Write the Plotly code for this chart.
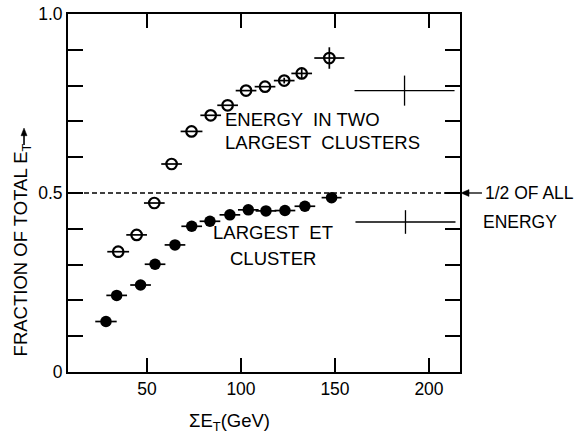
import plotly.graph_objects as go

# ---- data ----
et_two = [34.7, 44.5, 53.9, 63.1, 73.7, 83.9, 92.9, 102.7, 112.8, 123.0, 132.3, 147.0]
frac_two = [0.336, 0.383, 0.472, 0.581, 0.672, 0.717, 0.745, 0.786, 0.797, 0.814, 0.834, 0.877]
xerr_two = [5.8, 5.5, 5.5, 5.5, 5.8, 5.5, 5.5, 5.5, 5.5, 5.5, 5.5, 8.0]
yerr_two = [0, 0, 0, 0, 0, 0, 0, 0, 0, 0.008, 0.016, 0.03]

et_one = [28.2, 33.9, 46.6, 54.3, 64.9, 73.8, 83.5, 94.1, 103.9, 113.3, 123.4, 134.0, 148.2]
frac_one = [0.141, 0.214, 0.243, 0.301, 0.355, 0.407, 0.421, 0.439, 0.453, 0.450, 0.451, 0.463, 0.487]
xerr_one = [5.7, 5.5, 5.5, 5.5, 5.5, 5.5, 5.5, 5.5, 5.5, 5.5, 5.5, 5.5, 5.3]

# typical systematic error crosses
sys_x = [187.0, 187.5]
sys_y = [0.786, 0.419]
sys_xerr = [26.6, 26.6]
sys_yerr = [0.042, 0.033]

half_level = 0.5

x_ticks = [50, 100, 150, 200]
y_tickvals = [0, 0.5, 1.0]
y_ticktext = ["0", "0.5", "1.0"]
y_minor_step = 0.1

FONT = "Liberation Sans, Arial, sans-serif"
BLACK = "#000000"

fig = go.Figure()

# dashed 1/2 line
fig.add_trace(go.Scatter(
    x=[8, 216.5], y=[half_level, half_level], mode="lines",
    line=dict(color=BLACK, width=1.4, dash="5px,3px"), hoverinfo="skip"))

fig.add_trace(go.Scatter(
    x=et_two, y=frac_two, mode="markers",
    marker=dict(symbol="circle-open", size=10.5, color=BLACK, line=dict(width=2.2)),
    error_x=dict(type="data", array=xerr_two, width=0, thickness=1.7, color=BLACK),
    error_y=dict(type="data", array=yerr_two, width=0, thickness=1.7, color=BLACK),
))

fig.add_trace(go.Scatter(
    x=et_one, y=frac_one, mode="markers",
    marker=dict(symbol="circle", size=11.5, color=BLACK),
    error_x=dict(type="data", array=xerr_one, width=0, thickness=1.7, color=BLACK),
))

fig.add_trace(go.Scatter(
    x=sys_x, y=sys_y, mode="markers",
    marker=dict(size=1, color="rgba(0,0,0,0)"),
    error_x=dict(type="data", array=sys_xerr, width=0, thickness=1.3, color=BLACK),
    error_y=dict(type="data", array=sys_yerr, width=0, thickness=1.3, color=BLACK),
))

tf = dict(family=FONT, size=18.5, color=BLACK)
rf = dict(family=FONT, size=17.5, color=BLACK)
annotations = [
    dict(x=90.4, y=0.704, xref="x", yref="y", text="ENERGY  IN TWO", showarrow=False,
         xanchor="left", yanchor="middle", font=tf),
    dict(x=90.4, y=0.642, xref="x", yref="y", text="LARGEST  CLUSTERS", showarrow=False,
         xanchor="left", yanchor="middle", font=tf),
    dict(x=117, y=0.391, xref="x", yref="y", text="LARGEST  ET", showarrow=False,
         xanchor="center", yanchor="middle", font=tf),
    dict(x=117, y=0.316, xref="x", yref="y", text="CLUSTER", showarrow=False,
         xanchor="center", yanchor="middle", font=tf),
    dict(x=1.058, y=half_level, xref="paper", yref="y", text="1/2 OF ALL", showarrow=False,
         xanchor="left", yanchor="middle", font=rf),
    dict(x=1.053, y=half_level, xref="paper", yref="y", text="ENERGY", showarrow=False,
         xanchor="left", yanchor="middle", yshift=-29, font=rf),
    # axis titles
    dict(x=-0.117, y=0.34, xref="paper", yref="paper", text="FRACTION OF TOTAL E<sub>T</sub>",
         showarrow=False, textangle=-90, xanchor="center", yanchor="middle", font=tf),
    dict(x=0.411, y=-0.14, xref="paper", yref="paper", text="ΣE<sub>T</sub>(GeV)",
         showarrow=False, xanchor="center", yanchor="middle", font=tf),
]

shapes = [
    # arrow pointing at the dashed 1/2 line
    dict(type="line", xref="paper", yref="y", x0=1.012, x1=1.056, y0=half_level, y1=half_level,
         line=dict(color=BLACK, width=1.3)),
    dict(type="path", xref="paper", yref="y",
         path="M 1.0026 0.5 L 1.0230 0.5095 L 1.0230 0.4905 Z",
         fillcolor=BLACK, line=dict(color=BLACK, width=0.5)),
    # arrow in the y title
    dict(type="line", xref="paper", yref="paper", x0=-0.1122, x1=-0.1122, y0=0.634, y1=0.665,
         line=dict(color=BLACK, width=1.6)),
    dict(type="path", xref="paper", yref="paper",
         path="M -0.1122 0.6815 L -0.1199 0.6600 L -0.1045 0.6600 Z",
         fillcolor=BLACK, line=dict(color=BLACK, width=0.5)),
]

fig.update_layout(
    width=581, height=436,
    margin=dict(l=68, r=121, t=14, b=64),
    paper_bgcolor="white", plot_bgcolor="white",
    showlegend=False,
    annotations=annotations,
    shapes=shapes,
    font=dict(family=FONT, size=17, color=BLACK),
)
fig.update_xaxes(
    range=[8, 216.5], tickvals=x_ticks, ticks="inside", ticklen=14, tickwidth=1.6,
    tickcolor=BLACK, showline=True, linecolor=BLACK, linewidth=2, mirror="ticks",
    showgrid=False, zeroline=False, automargin=False,
    tickfont=dict(family=FONT, size=17.5, color=BLACK),
)
fig.update_yaxes(
    range=[0, 1.0], tickvals=y_tickvals, ticktext=y_ticktext, ticks="inside", ticklen=15,
    tickwidth=1.6, tickcolor=BLACK, showline=True, linecolor=BLACK, linewidth=2,
    mirror="ticks", showgrid=False, zeroline=False, automargin=False,
    minor=dict(dtick=y_minor_step, tick0=0, ticks="inside", ticklen=15, tickwidth=1.6,
               tickcolor=BLACK, showgrid=False),
    tickfont=dict(family=FONT, size=17.5, color=BLACK),
)

fig.write_html("out.html")
